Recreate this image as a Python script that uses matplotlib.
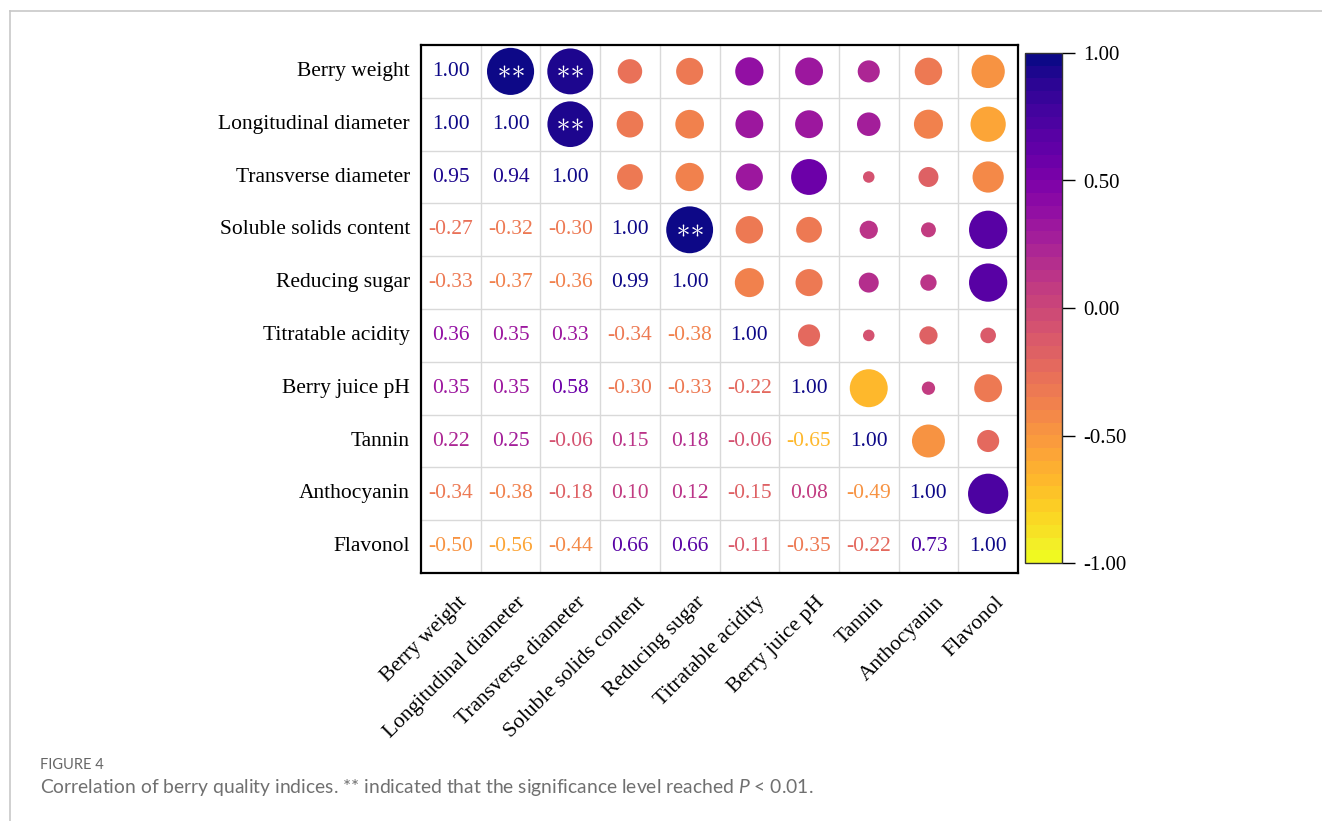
import numpy as np
import matplotlib
matplotlib.use("Agg")
import matplotlib.pyplot as plt
from matplotlib.colors import BoundaryNorm, ListedColormap
from matplotlib.transforms import ScaledTranslation
from matplotlib.lines import Line2D

# Berry quality indices
labels = ["Berry weight", "Longitudinal diameter", "Transverse diameter",
          "Soluble solids content", "Reducing sugar", "Titratable acidity",
          "Berry juice pH", "Tannin", "Anthocyanin", "Flavonol"]

# Lower-triangle correlation coefficients, row by row
row_berry_weight = [1.00]
row_longitudinal = [1.00, 1.00]
row_transverse = [0.95, 0.94, 1.00]
row_soluble = [-0.27, -0.32, -0.30, 1.00]
row_sugar = [-0.33, -0.37, -0.36, 0.99, 1.00]
row_acidity = [0.36, 0.35, 0.33, -0.34, -0.38, 1.00]
row_ph = [0.35, 0.35, 0.58, -0.30, -0.33, -0.22, 1.00]
row_tannin = [0.22, 0.25, -0.06, 0.15, 0.18, -0.06, -0.65, 1.00]
row_antho = [-0.34, -0.38, -0.18, 0.10, 0.12, -0.15, 0.08, -0.49, 1.00]
row_flavonol = [-0.50, -0.56, -0.44, 0.66, 0.66, -0.11, -0.35, -0.22, 0.73, 1.00]

# Pairs significant at P < 0.01 (row, column) in the upper triangle
significant = [(0, 1), (0, 2), (1, 2), (3, 4)]

rows = [row_berry_weight, row_longitudinal, row_transverse, row_soluble,
        row_sugar, row_acidity, row_ph, row_tannin, row_antho, row_flavonol]
n = len(labels)
corr = np.zeros((n, n))
for i, r in enumerate(rows):
    for j, v in enumerate(r):
        corr[i, j] = v
        corr[j, i] = v

plt.rcParams["font.family"] = ["Liberation Serif", "DejaVu Serif"]
plt.rcParams["mathtext.fontset"] = "custom"
plt.rcParams["mathtext.it"] = "Lato:italic"
plt.rcParams["mathtext.rm"] = "Lato"

fig = plt.figure(figsize=(13.22, 8.21), dpi=100)

# Outer page frame lines
fig.add_artist(Line2D([10 / 1322, 1.0], [1 - 11 / 821, 1 - 11 / 821],
                      transform=fig.transFigure, color="#c8c8c8", lw=1.2))
fig.add_artist(Line2D([10 / 1322, 10 / 1322], [0.0, 1 - 11 / 821],
                      transform=fig.transFigure, color="#c8c8c8", lw=1.2))

ax = fig.add_axes([421 / 1322, 1 - 573 / 821, 597 / 1322, 528 / 821])
cax = fig.add_axes([1025 / 1322, 1 - 563 / 821, 37 / 1322, 510 / 821])

nlev = 40
cmap = ListedColormap(plt.get_cmap("plasma_r")(np.linspace(0, 1, nlev)))
bounds = np.linspace(-1, 1, nlev + 1)
norm = BoundaryNorm(bounds, nlev)

ax.set_xlim(-0.5, n - 0.5)
ax.set_ylim(n - 0.5, -0.5)

# Cell grid
for k in range(1, n):
    ax.axhline(k - 0.5, color="#d9d9d9", lw=1.0, zorder=1)
    ax.axvline(k - 0.5, color="#d9d9d9", lw=1.0, zorder=1)

# Upper triangle: circles, area proportional to |r|
xs, ys, vs = [], [], []
for i in range(n):
    for j in range(i + 1, n):
        xs.append(j)
        ys.append(i)
        vs.append(corr[i, j])
vs = np.array(vs)
ax.scatter(xs, ys, s=1150 * np.abs(vs), c=vs, cmap=cmap, norm=norm,
           edgecolors="none", zorder=3)

# Significance asterisks, two per marked cell, centred in the circle
star_x = []
star_y = []
for (i, j) in significant:
    star_x += [j - 0.118, j + 0.118]
    star_y += [i, i]
ax.scatter(star_x, star_y, marker=r"$\ast$", s=75, c="white",
           linewidths=0, zorder=4)

# Lower triangle (and diagonal): coefficient values
for i in range(n):
    for j in range(i + 1):
        v = corr[i, j]
        ax.text(j, i, f"{v:.2f}", ha="center", va="center",
                color=cmap(norm(v)), fontsize=15.5, zorder=4)

ax.set_xticks([])
ax.set_yticks([])
for sp in ax.spines.values():
    sp.set_linewidth(1.6)
    sp.set_color("black")

# Row labels
for i, lab in enumerate(labels):
    ax.text(-0.5, i, lab, ha="right", va="center", fontsize=15.5,
            transform=ax.transData + ScaledTranslation(-11 / 100, 0, fig.dpi_scale_trans))

# Column labels, rotated
for j, lab in enumerate(labels):
    tr = ax.transData + ScaledTranslation(6 / 100, -20 / 100, fig.dpi_scale_trans)
    ax.text(j, n - 0.5, lab, ha="right", va="top", rotation=45,
            rotation_mode="anchor", fontsize=15.5, transform=tr)

# Colour bar
sm = matplotlib.cm.ScalarMappable(norm=norm, cmap=cmap)
cb = fig.colorbar(sm, cax=cax, ticks=[-1, -0.5, 0, 0.5, 1])
cb.ax.minorticks_off()
cb.ax.set_yticklabels(["-1.00", "-0.50", "0.00", "0.50", "1.00"])
cb.ax.tick_params(which="major", length=9, width=1, labelsize=15, pad=6)
cb.ax.tick_params(which="minor", length=0)
cb.outline.set_linewidth(1.0)
cb.outline.set_edgecolor("#333333")

# Caption
fig.text(40 / 1322, 1 - 765 / 821, "FIGURE 4", family="Lato", fontsize=10.5,
         color="#666666", va="center", ha="left")
fig.text(40 / 1322, 1 - 787 / 821,
         "Correlation of berry quality indices. ** indicated that the significance "
         "level reached $\\it{P}$ < 0.01.",
         family="Lato", fontsize=13.9, color="#707070", va="center", ha="left")

fig.savefig("out.png", dpi=100)
